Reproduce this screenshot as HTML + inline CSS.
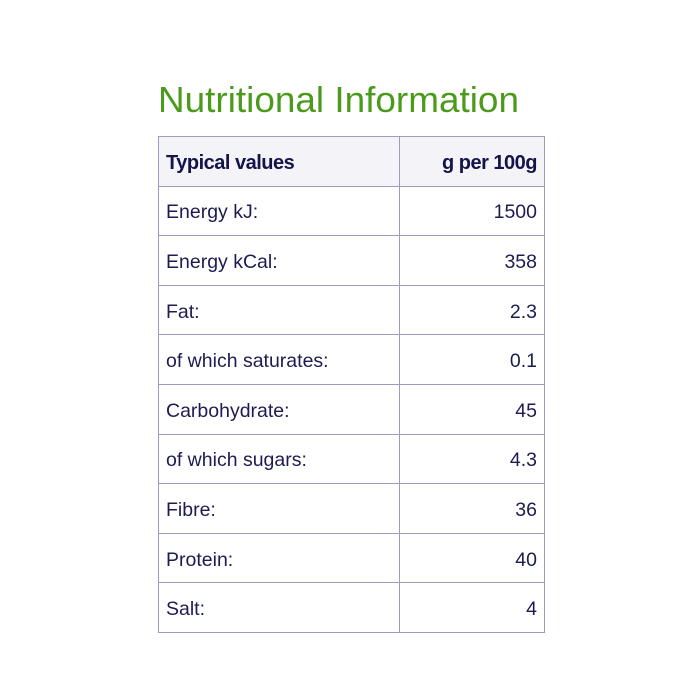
<!DOCTYPE html>
<html><head><style>
body{margin:0;background:#fff;width:700px;height:700px;position:relative;font-family:"Liberation Sans",sans-serif;overflow:hidden}
.t{position:absolute;left:158px;top:80px;font-size:36px;color:#4c9a1c;transform:scaleX(1.025);transform-origin:left;white-space:nowrap;line-height:40px}
table{position:absolute;left:158px;top:136px;width:387px;border-collapse:collapse;table-layout:fixed}
tr{height:49.6px}
td{border:1px solid #9c9cc2;padding:4px 7px 0 7px;font-size:19.5px;color:#1c1c52}
td:first-child{width:226px}
td:last-child{text-align:right}
tr.h td{background:#f3f3f8;font-weight:bold;font-size:20px;color:#14144a;letter-spacing:-0.5px}
</style></head><body>
<div class="t">Nutritional Information</div>
<table>
<tr class="h"><td>Typical values</td><td>g per 100g</td></tr>
<tr><td>Energy kJ:</td><td>1500</td></tr>
<tr><td>Energy kCal:</td><td>358</td></tr>
<tr><td>Fat:</td><td>2.3</td></tr>
<tr><td>of which saturates:</td><td>0.1</td></tr>
<tr><td>Carbohydrate:</td><td>45</td></tr>
<tr><td>of which sugars:</td><td>4.3</td></tr>
<tr><td>Fibre:</td><td>36</td></tr>
<tr><td>Protein:</td><td>40</td></tr>
<tr><td>Salt:</td><td>4</td></tr>
</table>
</body></html>
